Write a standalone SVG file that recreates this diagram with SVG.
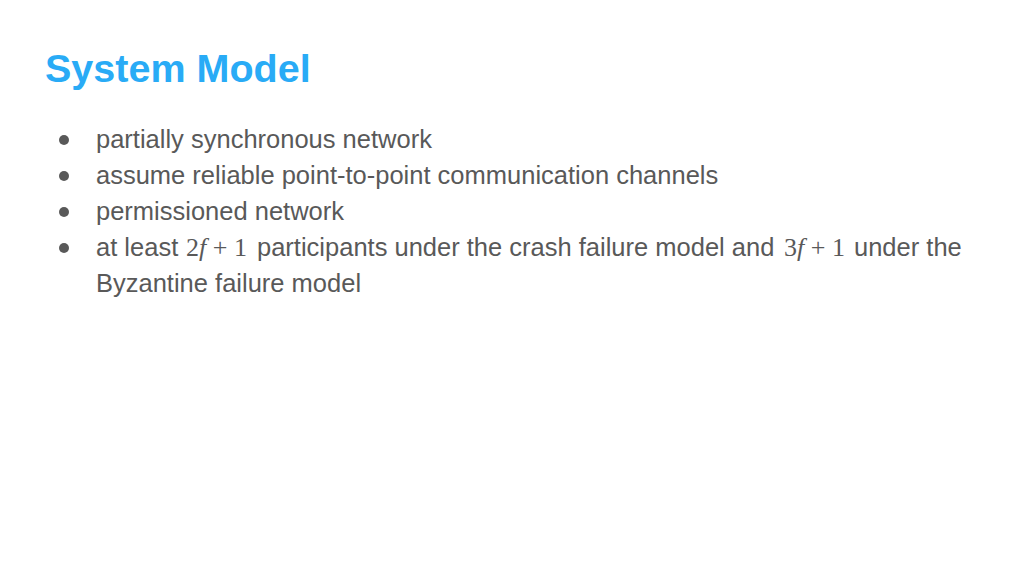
<svg xmlns="http://www.w3.org/2000/svg" width="1024" height="576" viewBox="0 0 1024 576">
<style>
.title{font-family:"Liberation Sans",Arial,sans-serif;font-weight:bold;font-size:39.5px;fill:#29abf6}
.body{font-family:"Liberation Sans",Arial,sans-serif;font-size:25.5px;fill:#595959}
.math{font-family:"Liberation Serif","Times New Roman",serif;font-size:26px;fill:#595959}
.it{font-style:italic}
.bullet{fill:#595959}
</style>
<rect width="1024" height="576" fill="#ffffff"/>
<text class="title" x="45" y="82">System Model</text>
<g id="bullets">
<circle class="bullet" cx="64" cy="140" r="5"/>
<circle class="bullet" cx="64" cy="176" r="5"/>
<circle class="bullet" cx="64" cy="212" r="5"/>
<circle class="bullet" cx="64" cy="248" r="5"/>
</g>
<g id="items">
<text class="body" x="96" y="148">partially synchronous network</text>
<text class="body" x="96" y="184">assume reliable point-to-point communication channels</text>
<text class="body" x="96" y="220">permissioned network</text>
<text class="body" x="96" y="256">at least</text>
<text class="math" x="186" y="256">2<tspan class="it">f</tspan> + 1</text>
<text class="body" x="257" y="256">participants under the crash failure model and</text>
<text class="math" x="784" y="256">3<tspan class="it">f</tspan> + 1</text>
<text class="body" x="854" y="256">under the</text>
<text class="body" x="96" y="292">Byzantine failure model</text>
</g>
</svg>
